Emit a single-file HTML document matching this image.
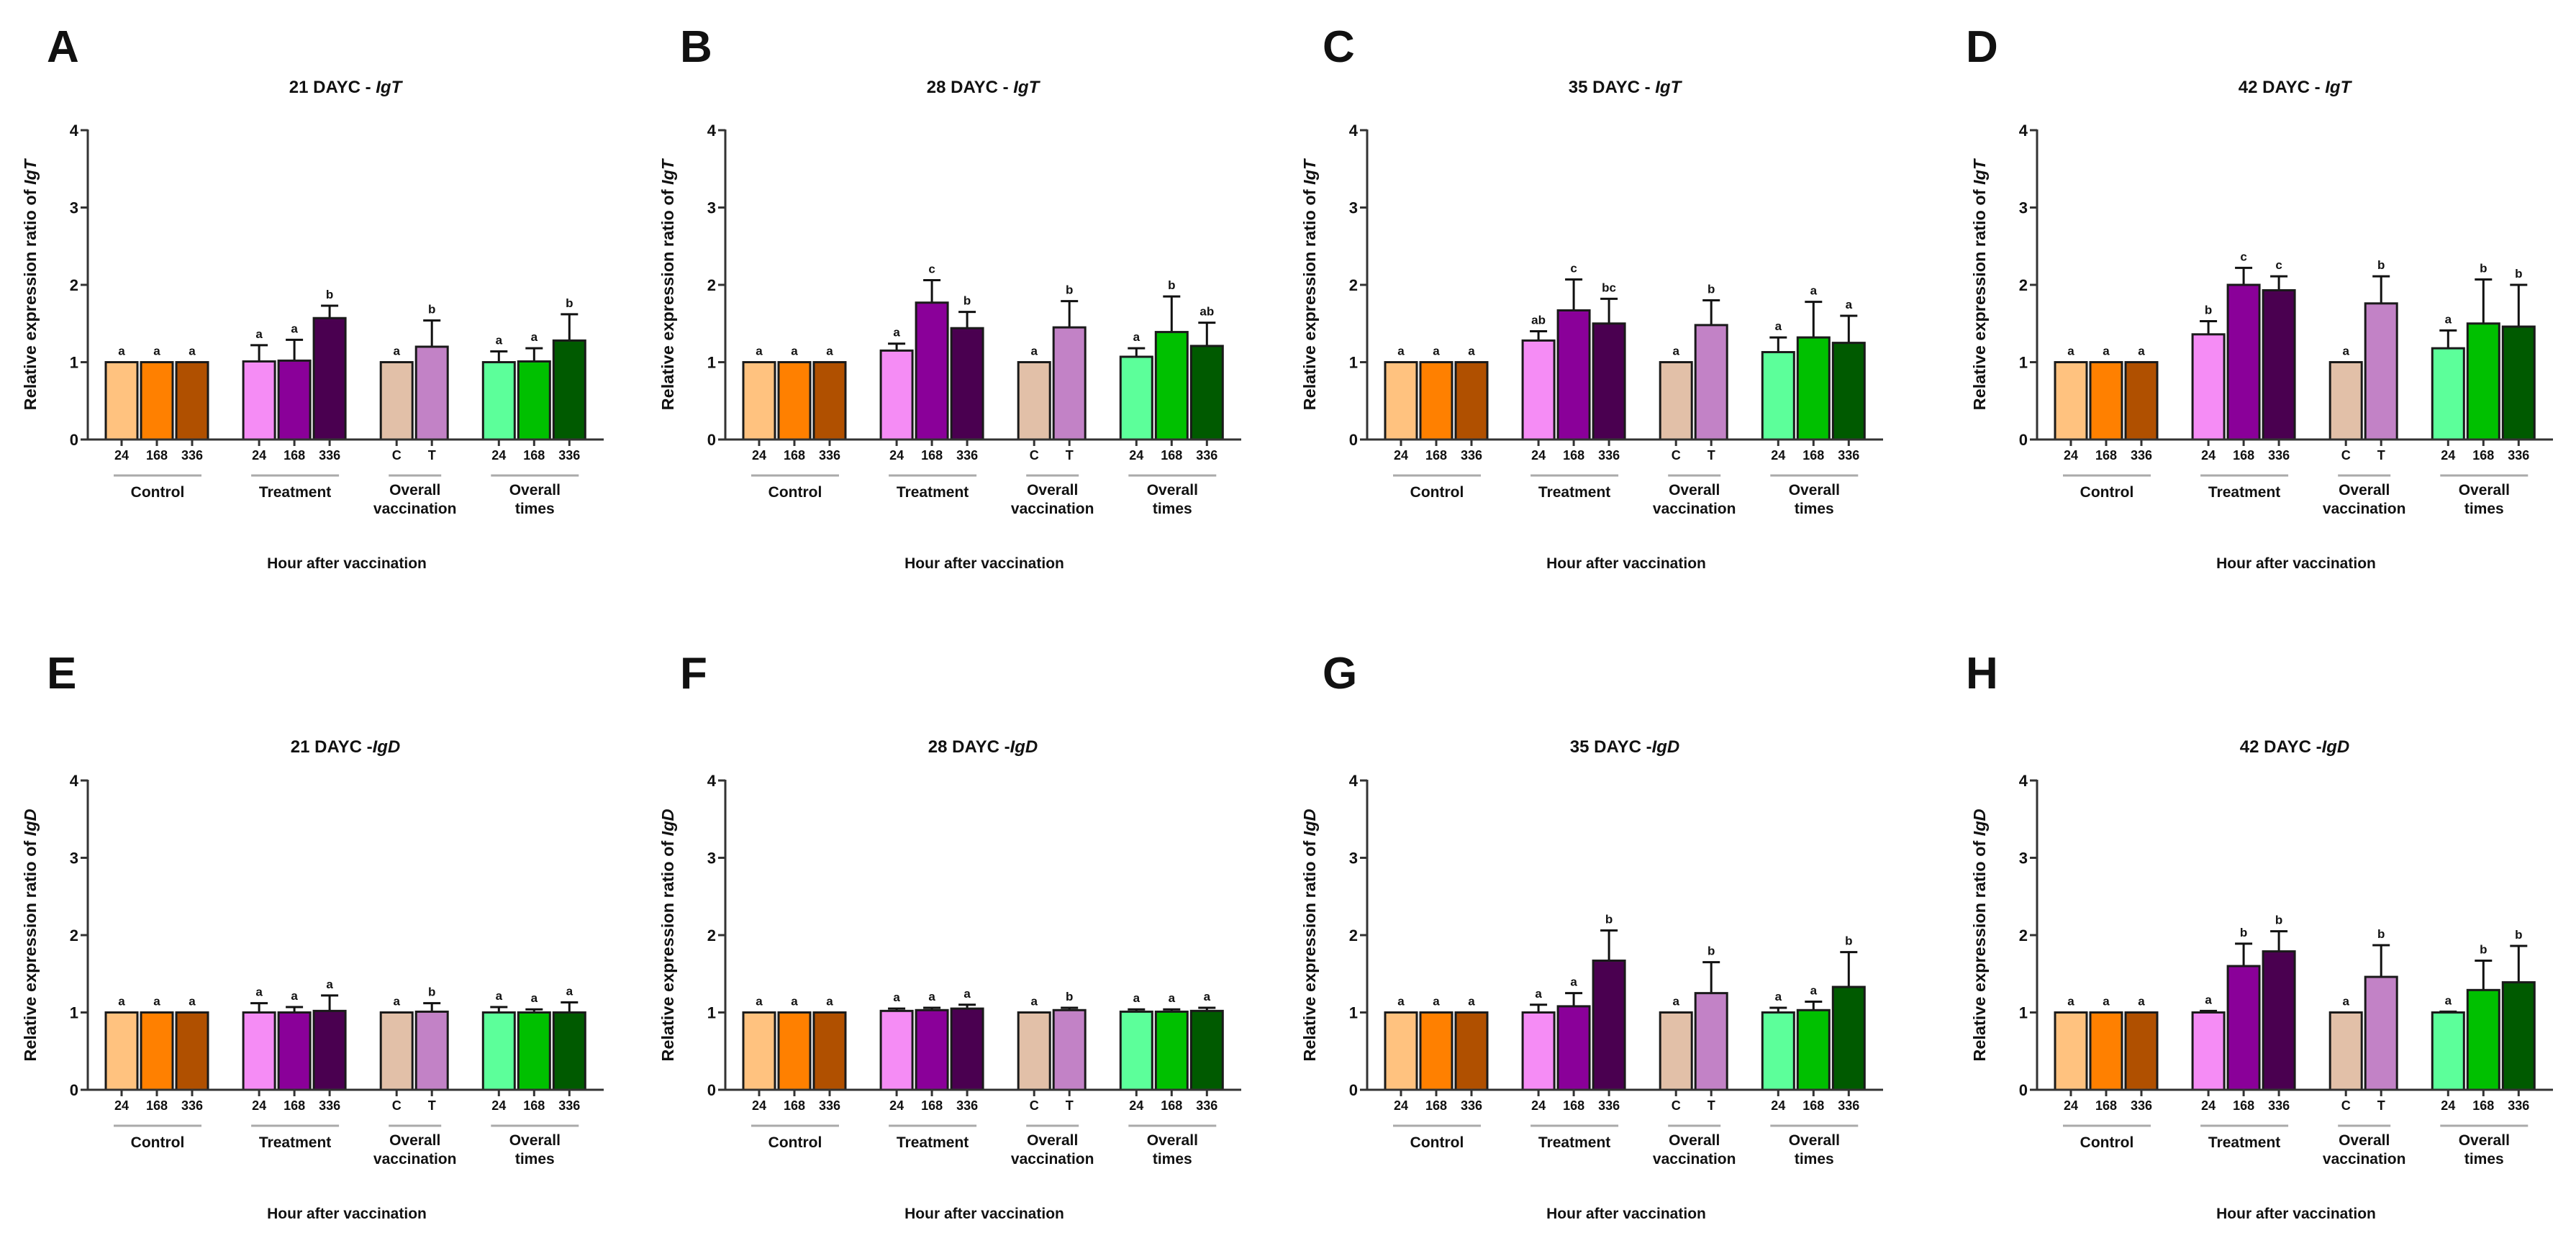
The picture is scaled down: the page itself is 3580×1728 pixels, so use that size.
<!DOCTYPE html>
<html><head><meta charset="utf-8"><style>
html,body{margin:0;padding:0;background:#fff;}
svg{display:block;}
text{font-family:"Liberation Sans",Arial,sans-serif;font-weight:bold;fill:#111;}
</style></head>
<body>
<svg id="fig" xmlns="http://www.w3.org/2000/svg" width="3580" height="1728" viewBox="0 0 3580 1728"></svg>
<script>
// ---- data ----
const panelLetters = ["A","B","C","D","E","F","G","H"];
const panelDays = ["21","28","35","42","21","28","35","42"];
const panelGenes = ["IgT","IgT","IgT","IgT","IgD","IgD","IgD","IgD"];
const categories = ["24","168","336","24","168","336","C","T","24","168","336"];
const groupNames = ["Control","Treatment","Overall vaccination","Overall times"];
const yTicks = [0,1,2,3,4];
const barColors = ["#FFC27F","#FF8000","#B05000","#F58CF5","#8A0099","#4A0050","#E2C0A8","#C282C6","#5CFF9A","#00C000","#005A00"];

const valsA = [1,1,1, 1.01,1.02,1.57, 1,1.20, 1.00,1.01,1.28];
const errA  = [0,0,0, 1.22,1.29,1.73, 1,1.54, 1.14,1.18,1.62];
const letA  = ["a","a","a","a","a","b","a","b","a","a","b"];
const valsB = [1,1,1, 1.15,1.77,1.44, 1,1.45, 1.07,1.39,1.21];
const errB  = [0,0,0, 1.24,2.06,1.65, 1,1.79, 1.18,1.85,1.51];
const letB  = ["a","a","a","a","c","b","a","b","a","b","ab"];
const valsC = [1,1,1, 1.28,1.67,1.50, 1,1.48, 1.13,1.32,1.25];
const errC  = [0,0,0, 1.40,2.07,1.82, 1,1.80, 1.32,1.78,1.60];
const letC  = ["a","a","a","ab","c","bc","a","b","a","a","a"];
const valsD = [1,1,1, 1.36,2.00,1.93, 1,1.76, 1.18,1.50,1.46];
const errD  = [0,0,0, 1.53,2.22,2.11, 1,2.11, 1.41,2.07,2.00];
const letD  = ["a","a","a","b","c","c","a","b","a","b","b"];
const valsE = [1,1,1, 1.00,1.00,1.02, 1,1.01, 1.00,1.00,1.00];
const errE  = [0,0,0, 1.12,1.07,1.22, 1,1.12, 1.07,1.04,1.13];
const letE  = ["a","a","a","a","a","a","a","b","a","a","a"];
const valsF = [1,1,1, 1.02,1.03,1.05, 1,1.03, 1.01,1.01,1.02];
const errF  = [0,0,0, 1.05,1.06,1.10, 1,1.06, 1.04,1.04,1.06];
const letF  = ["a","a","a","a","a","a","a","b","a","a","a"];
const valsG = [1,1,1, 1.00,1.08,1.67, 1,1.25, 1.00,1.03,1.33];
const errG  = [0,0,0, 1.10,1.25,2.06, 1,1.65, 1.06,1.14,1.78];
const letG  = ["a","a","a","a","a","b","a","b","a","a","b"];
const valsH = [1,1,1, 1.00,1.60,1.79, 1,1.46, 1.00,1.29,1.39];
const errH  = [0,0,0, 1.02,1.89,2.05, 1,1.87, 1.01,1.67,1.86];
const letH  = ["a","a","a","a","b","b","a","b","a","b","b"];

const allVals = [valsA,valsB,valsC,valsD,valsE,valsF,valsG,valsH];
const allErr = [errA,errB,errC,errD,errE,errF,errG,errH];
const allLet = [letA,letB,letC,letD,letE,letF,letG,letH];

// ---- layout ----
const NS = "http://www.w3.org/2000/svg";
const svg = document.getElementById("fig");
const colAxisX = [122, 1008, 1900, 2831];
const rowY0 = [611, 1515];
const titleY = [129, 1046];
const letterX = [65, 945, 1838, 2732];
const letterY = [86, 957];
const unit = 107.5;
const pitch = 49;
const slots = [0,1,2,3.9,4.9,5.9,7.8,8.8,10.7,11.7,12.7];
const groupIdx = [[0,1,2],[3,4,5],[6,7],[8,9,10]];
const barW = 44;

function mk(tag, attrs, parent){
  const e = document.createElementNS(NS, tag);
  for (const k in attrs) e.setAttribute(k, attrs[k]);
  (parent||svg).appendChild(e);
  return e;
}

for (let p=0; p<8; p++){
  const col = p%4, row = Math.floor(p/4);
  const ax = colAxisX[col], y0 = rowY0[row];
  const yS = v => y0 - v*unit;
  const xS = i => ax + 47 + slots[i]*pitch;
  const g = mk("g", {});
  
  

  const L = mk("text", {x: letterX[col], y: letterY[row], "font-size": 62}, g);
  L.textContent = panelLetters[p];
  
  

  const T = mk("text", {x: ax+358, y: titleY[row], "font-size": 24, "text-anchor":"middle"}, g);
  
  
  const t1 = mk("tspan", {}, T); t1.textContent = panelDays[p] + " DAYC " + (row===0 ? "- " : "-");
  const t2 = mk("tspan", {"font-style":"italic"}, T); t2.textContent = panelGenes[p];

  const YT = mk("text", {transform:`translate(${ax-72},${y0-215}) rotate(-90)`, "font-size": 23.5, "text-anchor":"middle"}, g);
  
  
  const y1 = mk("tspan", {}, YT); y1.textContent = "Relative expression ratio of  ";
  const y2 = mk("tspan", {"font-style":"italic"}, YT); y2.textContent = panelGenes[p];

  const yax = mk("line", {x1:ax, y1:yS(4)-1, x2:ax, y2:y0, stroke:"#333", "stroke-width":3}, g);
  
  
  yTicks.forEach(v=>{
    const tk = mk("line", {x1:ax-10, y1:yS(v), x2:ax, y2:yS(v), stroke:"#333", "stroke-width":3}, g);
    
    
    const tl = mk("text", {x:ax-13, y:yS(v)+8, "font-size":22, "text-anchor":"end"}, g);
    tl.textContent = v;
    
    
  });

  const vals = allVals[p], errs = allErr[p], lets = allLet[p];
  categories.forEach((c,i)=>{
    const cx = xS(i), top = yS(vals[i]);
    if (errs[i] > vals[i]) {
      const eb = mk("path", {d:`M${cx},${top} V${yS(errs[i])} M${cx-12},${yS(errs[i])} H${cx+12}`, stroke:"#111", "stroke-width":3, fill:"none"}, g);
      
      
    }
    const r = mk("rect", {x:cx-barW/2, y:top, width:barW, height:y0-top, fill:barColors[i], stroke:"#1a1a1a", "stroke-width":3}, g);
    
    
    const topMark = Math.max(vals[i], errs[i]);
    const lt = mk("text", {x:cx, y:yS(topMark)-10, "font-size":17, "text-anchor":"middle"}, g);
    lt.textContent = lets[i];
    
    
    const xt = mk("line", {x1:cx, y1:y0, x2:cx, y2:y0+9, stroke:"#333", "stroke-width":3}, g);
    
    
    const xl = mk("text", {x:cx, y:y0+28, "font-size":18, "text-anchor":"middle"}, g);
    xl.textContent = c;
    
    
  });
  const xax = mk("line", {x1:ax, y1:y0, x2:ax+717, y2:y0, stroke:"#333", "stroke-width":3}, g);
  
  

  groupIdx.forEach((ids,gi)=>{
    const a = xS(ids[0]), b = xS(ids[ids.length-1]);
    const ln = mk("line", {x1:a-11, y1:y0+50, x2:b+13, y2:y0+50, stroke:"#aaa", "stroke-width":3}, g);
    
    
    const mid = (a+b)/2 + 1;
    const words = groupNames[gi].split(" ");
    if (words.length === 1) {
      const gt = mk("text", {x:mid, y:y0+80, "font-size":21, "text-anchor":"middle"}, g);
      gt.textContent = groupNames[gi];
      
      
    } else {
      const gt = mk("text", {x:mid, y:y0+77, "font-size":21, "text-anchor":"middle"}, g);
      
      
      const s1 = mk("tspan", {x:mid}, gt); s1.textContent = words[0];
      const s2 = mk("tspan", {x:mid, dy:26}, gt); s2.textContent = words[1];
    }
  });

  const xt = mk("text", {x:ax+360, y:y0+179, "font-size":21, "text-anchor":"middle"}, g);
  xt.textContent = "Hour after vaccination";
  
  
}
</script>
</body></html>
